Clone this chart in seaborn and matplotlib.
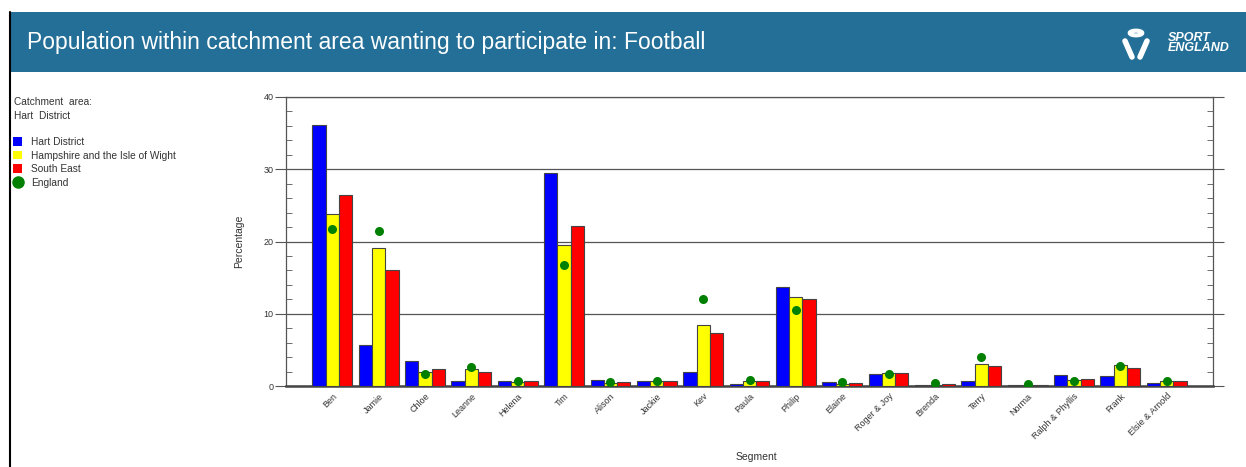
import pandas as pd
import matplotlib.pyplot as plt
import seaborn as sns
from matplotlib.patches import Rectangle, Patch, Circle
from matplotlib.lines import Line2D

# values (percent)
segments = ['Ben', 'Jamie', 'Chloe', 'Leanne', 'Helena', 'Tim', 'Alison', 'Jackie', 'Kev', 'Paula',
            'Philip', 'Elaine', 'Roger & Joy', 'Brenda', 'Terry', 'Norma', 'Ralph & Phyllis', 'Frank',
            'Elsie & Arnold']
hart = [36.1, 5.7, 3.4, 0.7, 0.7, 29.5, 0.8, 0.65, 2.0, 0.23,
        13.7, 0.55, 1.65, 0.14, 0.75, 0.14, 1.5, 1.4, 0.45]
hampshire = [23.8, 19.1, 1.9, 2.3, 0.6, 19.5, 0.4, 0.75, 8.5, 0.65,
             12.3, 0.3, 1.8, 0.2, 3.1, 0.1, 0.8, 2.85, 0.75]
south_east = [26.5, 16.1, 2.3, 2.0, 0.7, 22.2, 0.55, 0.7, 7.3, 0.65,
              12.0, 0.4, 1.75, 0.28, 2.7, 0.14, 0.9, 2.5, 0.65]
england = [21.7, 21.5, 1.7, 2.6, 0.65, 16.8, 0.5, 0.75, 12.0, 0.85,
           10.5, 0.5, 1.6, 0.4, 4.0, 0.23, 0.65, 2.7, 0.75]
areas = ['Hart District', 'Hampshire and the Isle of Wight', 'South East']
colors = ['#0000ff', '#ffff00', '#ff0000']

df = pd.DataFrame({
    'Segment': segments * 3,
    'Area': [areas[0]] * 19 + [areas[1]] * 19 + [areas[2]] * 19,
    'Percentage': hart + hampshire + south_east,
})

sns.set_style('white')
plt.rcParams['font.family'] = ['Liberation Sans', 'DejaVu Sans']

fig = plt.figure(figsize=(12.46, 4.67), dpi=100)

# header banner
fig.patches.append(Rectangle((10 / 1246, 1 - 72 / 467), 1, 60 / 467, transform=fig.transFigure,
                             facecolor='#236f97', edgecolor='none', zorder=0))
fig.lines.append(Line2D([10 / 1246, 10 / 1246], [0, 1 - 12 / 467], transform=fig.transFigure,
                        color='black', lw=1.5))
fig.text(27 / 1246, 1 - 43 / 467, 'Population within catchment area wanting to participate in: Football',
         color='white', fontsize=16.5, va='center', ha='left')
# rough logo
fig.text(1168 / 1246, 1 - 43 / 467, 'SPORT\nENGLAND', color='white', fontsize=9, fontweight='bold',
         style='italic', va='center', ha='left', linespacing=0.85)
fig.patches.append(Circle((1136 / 1246, 1 - 33 / 467), 0.005, transform=fig.transFigure,
                          facecolor='none', edgecolor='white', lw=3))
fig.lines.append(Line2D([1125 / 1246, 1132 / 1246], [1 - 41 / 467, 1 - 57 / 467],
                        transform=fig.transFigure, color='white', lw=4, solid_capstyle='round'))
fig.lines.append(Line2D([1147 / 1246, 1140 / 1246], [1 - 41 / 467, 1 - 57 / 467],
                        transform=fig.transFigure, color='white', lw=4, solid_capstyle='round'))

ax = fig.add_axes([286 / 1246, 1 - 386 / 467, (1213 - 286) / 1246, (386 - 97) / 467])

sns.barplot(data=df, x='Segment', y='Percentage', hue='Area', palette=colors, width=0.86,
            saturation=1, edgecolor='#444444', linewidth=0.8, legend=False, ax=ax, zorder=3)
sns.stripplot(x=segments, y=england, jitter=False, color='#008000', size=6.5, ax=ax, zorder=5)

ax.set_xlim(-1, 19)
ax.set_ylim(0, 40)
ax.set_yticks([0, 10, 20, 30, 40])
ax.set_yticks(range(0, 41, 2), minor=True)
ax.grid(axis='y', which='major', color='#555555', lw=0.9, zorder=0)
ax.tick_params(axis='y', which='major', direction='out', length=8, color='#555555',
               labelsize=6.5, labelcolor='#333333', right=True, left=True, pad=1)
ax.tick_params(axis='y', which='minor', direction='in', length=4, color='#555555', left=True, right=True)
ax.set_xticks(range(19))
ax.set_xticklabels(segments, rotation=45, ha='right', rotation_mode='anchor')
ax.tick_params(axis='x', which='major', length=0, labelsize=6.5, labelcolor='#333333', pad=4)
ax.set_xticks([4, 9, 14], minor=True)
ax.tick_params(axis='x', which='minor', direction='inout', length=6, color='#555555', top=True, bottom=True)

for side in ['left', 'right', 'top']:
    ax.spines[side].set_color('#555555')
    ax.spines[side].set_linewidth(0.9)
ax.spines['bottom'].set_color('#444444')
ax.spines['bottom'].set_linewidth(1.8)

ax.set_xlabel('Segment', fontsize=7.5, color='#333333', labelpad=2)
ax.xaxis.set_label_coords(0.507, -0.23)
ax.set_ylabel('Percentage', fontsize=7.5, color='#333333', labelpad=14)

# legend on the left
fig.text(14 / 1246, 1 - 102 / 467, 'Catchment  area:', fontsize=7.3, color='#333333', va='center')
fig.text(14 / 1246, 1 - 116 / 467, 'Hart  District', fontsize=7.3, color='#333333', va='center')
handles = [Patch(facecolor=c, edgecolor='none') for c in colors]
handles.append(Line2D([], [], marker='o', color='#008000', linestyle='none', markersize=8))
fig.legend(handles, areas + ['England'], loc='upper left', bbox_to_anchor=(13 / 1246, 1 - 137 / 467),
           frameon=False, fontsize=7.3, handlelength=0.9, handleheight=0.9, handletextpad=0.9,
           labelspacing=0.35, labelcolor='#333333', borderaxespad=0, borderpad=0)

fig.savefig('out.png', dpi=100)
